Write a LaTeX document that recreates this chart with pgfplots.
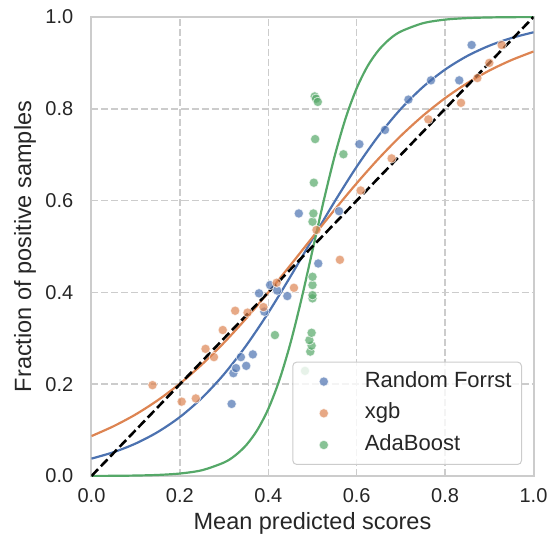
\documentclass[border=0pt]{standalone}
\usepackage{fontspec}
\setmainfont{Liberation Sans}
\usepackage{pgfplots}
\pgfplotsset{compat=1.18}
\definecolor{sbblue}{HTML}{4C72B0}
\definecolor{sborange}{HTML}{DD8452}
\definecolor{sbgreen}{HTML}{55A868}
\definecolor{spine}{HTML}{CCCCCC}
\definecolor{txt}{HTML}{262626}

\begin{document}
\begin{tikzpicture}
\begin{axis}[
  scale only axis, width=442bp, height=459bp,
  xmin=0, xmax=1, ymin=0, ymax=1,
  xtick={0,0.2,0.4,0.6,0.8,1}, ytick={0,0.2,0.4,0.6,0.8,1},
  axis line style={draw=spine, line width=2bp},
  major tick length=0pt,
  grid=major,
  major grid style={draw=spine, line width=1.5bp, dash pattern=on 7bp off 3bp},
  tick label style={font=\fontsize{20bp}{24bp}\selectfont, text=txt, inner sep=0pt},
  /pgf/number format/assume math mode=true,
  xticklabel style={anchor=center, yshift=-20bp, /pgf/number format/.cd, fixed, fixed zerofill, precision=1},
  yticklabel style={anchor=east, xshift=-18bp, /pgf/number format/.cd, fixed, fixed zerofill, precision=1},
  xlabel={Mean predicted scores},
  ylabel={Fraction of positive samples},
  label style={font=\fontsize{23.5bp}{28bp}\selectfont, text=txt},
  xlabel style={at={(axis description cs:0.5,-0.1024)}, anchor=center},
  ylabel style={at={(axis description cs:-0.1505,0.5)}, anchor=center},
  legend cell align=left,
  legend style={
    at={(axis description cs:0.974,0.024)}, anchor=south east,
    draw=spine, line width=1bp, rounded corners=4bp,
    fill=white, fill opacity=0.8, draw opacity=1, text opacity=1,
    font=\fontsize{22bp}{26bp}\selectfont, text=txt,
    inner xsep=10bp, inner ysep=9bp,
    row sep=10.7bp, column sep=36bp,
    nodes={inner sep=0pt, text height=16bp, text depth=5bp},
  },
  legend image code/.code={%
    \path[draw=none, fill=none] (0bp,0bp) rectangle (26bp,0bp);
    \path[#1, draw=none, fill=none] plot[only marks] coordinates {(21bp,0bp)};},
]

% scatter: calibration bins
\addplot[only marks, mark=*, mark size=4.7bp,
  mark options={fill=sbblue, draw=white, line width=0.8bp, opacity=0.7}] coordinates {
(0.317,0.157) (0.321,0.224) (0.327,0.235) (0.338,0.259) (0.350,0.240)
(0.365,0.265) (0.379,0.398) (0.391,0.358) (0.404,0.416) (0.420,0.404)
(0.443,0.392) (0.469,0.572) (0.513,0.463) (0.560,0.577) (0.606,0.723)
(0.664,0.754) (0.717,0.820) (0.768,0.862) (0.832,0.862) (0.860,0.939)
};
\addlegendentry{Random Forrst}

\addplot[only marks, mark=*, mark size=4.7bp,
  mark options={fill=sborange, draw=white, line width=0.8bp, opacity=0.7}] coordinates {
(0.138,0.198) (0.204,0.162) (0.236,0.169) (0.258,0.277) (0.277,0.259)
(0.297,0.318) (0.325,0.360) (0.353,0.356) (0.389,0.368) (0.419,0.421)
(0.458,0.410) (0.509,0.536) (0.562,0.471) (0.609,0.622) (0.679,0.692)
(0.762,0.777) (0.836,0.813) (0.873,0.867) (0.900,0.900) (0.928,0.939)
};
\addlegendentry{xgb}

\addplot[only marks, mark=*, mark size=4.7bp,
  mark options={fill=sbgreen, draw=white, line width=0.8bp, opacity=0.7}] coordinates {
(0.415,0.307) (0.483,0.229) (0.495,0.271) (0.498,0.284) (0.493,0.296)
(0.498,0.312) (0.500,0.387) (0.500,0.394) (0.500,0.416) (0.500,0.434)
(0.500,0.554) (0.502,0.572) (0.503,0.639) (0.506,0.734) (0.505,0.827)
(0.508,0.822) (0.512,0.815) (0.570,0.701)
};
\addlegendentry{AdaBoost}

% fitted curves
\addplot[sbblue, line width=2.2bp, smooth, forget plot] coordinates {
(0,0.0379) (0.05,0.0519) (0.10,0.0708) (0.15,0.0959) (0.20,0.1285)
(0.25,0.1702) (0.30,0.2220) (0.35,0.2842) (0.40,0.3557) (0.45,0.4344)
(0.50,0.5165) (0.55,0.5977) (0.60,0.6739) (0.65,0.7419) (0.70,0.7999)
(0.75,0.8476) (0.80,0.8855) (0.85,0.9150) (0.90,0.9374) (0.95,0.9542)
(1.00,0.9667)
};
\addplot[sborange, line width=2.2bp, smooth, forget plot] coordinates {
(0,0.0870) (0.05,0.1085) (0.10,0.1342) (0.15,0.1651) (0.20,0.2013)
(0.25,0.2432) (0.30,0.2907) (0.35,0.3433) (0.40,0.3998) (0.45,0.4593)
(0.50,0.5200) (0.55,0.5800) (0.60,0.6378) (0.65,0.6919) (0.70,0.7412)
(0.75,0.7850) (0.80,0.8232) (0.85,0.8558) (0.90,0.8833) (0.95,0.9061)
(1.00,0.9248)
};
\addplot[sbgreen, line width=2.2bp, smooth, forget plot] coordinates {
(0,0.0002) (0.05,0.0004) (0.10,0.0010) (0.15,0.0023) (0.20,0.0054)
(0.25,0.0126) (0.30,0.0295) (0.325,0.0447) (0.35,0.0672) (0.375,0.1000)
(0.40,0.1462) (0.425,0.2088) (0.45,0.2890) (0.475,0.3853) (0.50,0.4914)
(0.525,0.5982) (0.55,0.6964) (0.575,0.7796) (0.60,0.8449) (0.625,0.8936)
(0.65,0.9282) (0.675,0.9523) (0.70,0.9685) (0.75,0.9865) (0.80,0.9943)
(0.85,0.9976) (0.90,0.9990) (0.95,0.9996) (1.00,0.9998)
};

% perfect calibration
\addplot[black, line width=2.6bp, dash pattern=on 9.5bp off 4bp, forget plot] coordinates {(0,0) (1,1)};
\end{axis}
\pgfresetboundingbox
\path[use as bounding box] (-91.5bp,-66bp) rectangle (458.5bp,476bp);
\end{tikzpicture}
\end{document}
